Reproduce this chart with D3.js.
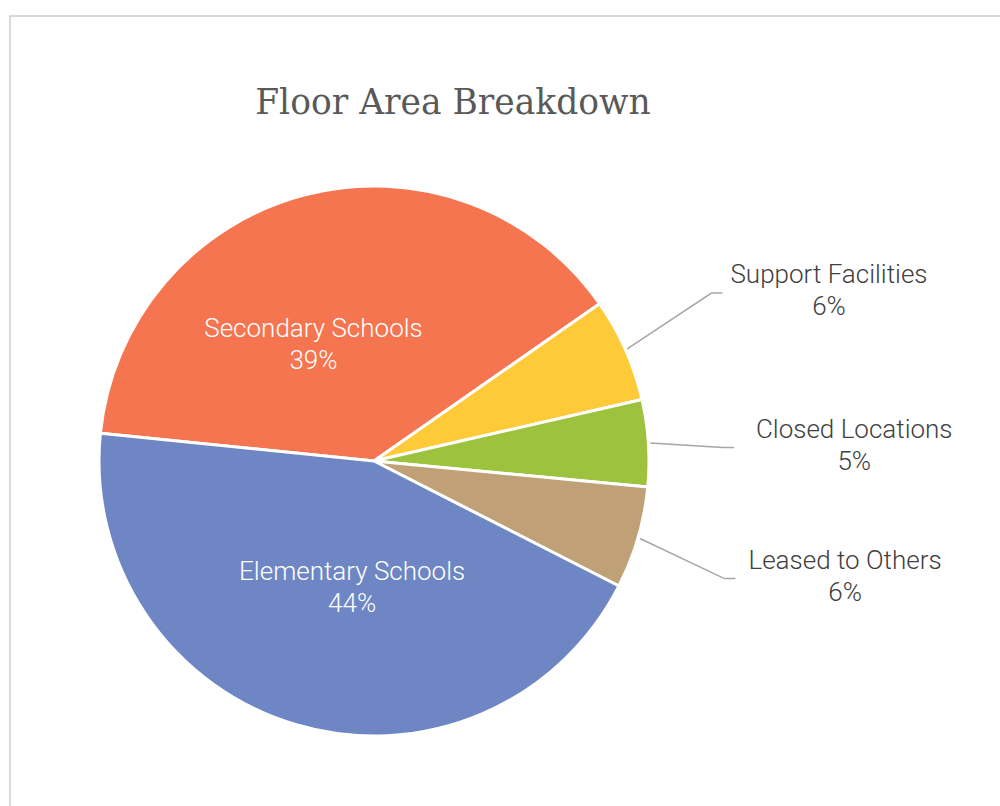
<!DOCTYPE html>
<html>
<head>
<meta charset="utf-8">
<script src="https://cdn.jsdelivr.net/npm/d3@7"></script>
<style>
  body { margin: 0; background: #fff; }
  svg { display: block; }
</style>
</head>
<body>
<div id="chart"></div>
<script>
// data (share of floor area, %)
const categories = ['Secondary Schools', 'Support Facilities', 'Closed Locations', 'Leased to Others', 'Elementary Schools'];
const values = [38.7, 6.1, 5.1, 6.0, 44.1];
const colors = ['#f4754f', '#ffca38', '#9dc23d', '#c0a077', '#6e87c4'];
const inside = [true, false, false, false, true];

const width = 1000, height = 806;
const cx = 374, cy = 461, radius = 275;

const svg = d3.select('#chart')
  .append('svg')
  .attr('width', width)
  .attr('height', height);

// frame
svg.append('path')
  .attr('d', 'M10,806V16H1000')
  .attr('fill', 'none')
  .attr('stroke', '#d9d9d9')
  .attr('stroke-width', 2);

svg.append('text')
  .attr('x', 453)
  .attr('y', 114)
  .attr('text-anchor', 'middle')
  .attr('fill', '#595959')
  .style('font-family', '"DejaVu Serif", serif')
  .style('font-size', '34.5px')
  .text('Floor Area Breakdown');

const pie = d3.pie()
  .sort(null)
  .value(d => d)
  .startAngle(-84.2 * Math.PI / 180)
  .endAngle(275.8 * Math.PI / 180);

const arcs = pie(values);
const total = d3.sum(values);

const arc = d3.arc()
  .innerRadius(0)
  .outerRadius(radius);

const g = svg.append('g')
  .attr('transform', `translate(${cx},${cy})`);

g.selectAll('path.slice')
  .data(arcs)
  .enter()
  .append('path')
  .attr('class', 'slice')
  .attr('d', arc)
  .attr('fill', (d, i) => colors[i])
  .attr('stroke', '#fff')
  .attr('stroke-width', 3)
  .attr('stroke-linejoin', 'round');

const mid = d => (d.startAngle + d.endAngle) / 2;
const polar = (a, r) => [r * Math.sin(a), -r * Math.cos(a)];

// label layout (radius factor + nudge), style only
const labelR = [0.5, 1.75, 1.75, 1.75, 0.5];
const nudge = [[-26, 17], [15, 25], [0, 16], [9, -19], [17, -5]];
const lineGap = [8, 8, 22, 13, 8];

const labelPos = arcs.map((d, i) => {
  const p = polar(mid(d), radius * labelR[i]);
  return [p[0] + nudge[i][0], p[1] + nudge[i][1]];
});

const pct = v => Math.round(v / total * 100) + '%';

const lines = g.append('g');

const labels = g.selectAll('text.lbl')
  .data(arcs)
  .enter()
  .append('text')
  .attr('class', 'lbl')
  .attr('text-anchor', 'middle')
  .attr('transform', (d, i) => `translate(${labelPos[i][0]},${labelPos[i][1]})`)
  .attr('fill', (d, i) => inside[i] ? '#fff' : '#404040')
  .style('font-family', 'Roboto, sans-serif')
  .style('font-weight', 300)
  .style('font-size', '26px');

labels.append('tspan')
  .attr('class', 'name')
  .attr('x', 0)
  .attr('y', -8)
  .text((d, i) => categories[i]);
labels.append('tspan')
  .attr('x', 0)
  .attr('y', 24)
  .text(d => pct(d.value));

// leader lines for outside labels
labels.each(function (d, i) {
  if (inside[i]) return;
  const w = d3.select(this).select('.name').node().getComputedTextLength();
  const s = polar(mid(d), radius + 2);
  const lp = labelPos[i];
  const ex = lp[0] - w / 2 - lineGap[i];
  const ey = lp[1] + 2;
  lines.append('polyline')
    .attr('points', [s, [ex - 11, ey], [ex, ey]].map(p => p.join(',')).join(' '))
    .attr('fill', 'none')
    .attr('stroke', '#a6a6a6')
    .attr('stroke-width', 1.5);
});
</script>
</body>
</html>
